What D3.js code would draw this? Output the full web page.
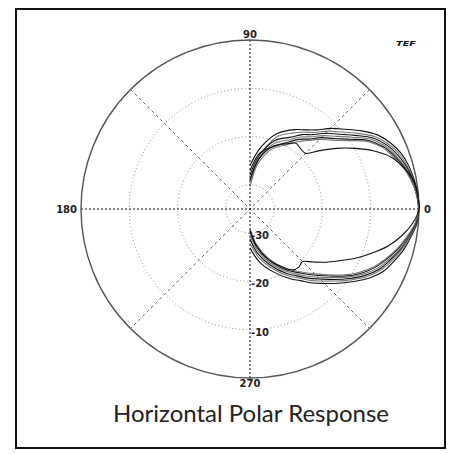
<!DOCTYPE html>
<html>
<head>
<meta charset="utf-8">
<script src="https://cdn.jsdelivr.net/npm/d3@7"></script>
<style>
  html, body { margin: 0; padding: 0; background: #fff; }
  svg { display: block; }
</style>
</head>
<body>
<svg id="chart" width="450" height="454"></svg>
<script>
// ---- data ----
const angles = [90,80,70,60,55,50,45,40,35,30,25,20,15,10,5,0,-5,-10,-15,-20,-25,-30,-35,-40,-45,-50,-55,-60,-70,-80,-90];

const curve1 = [-26.0,-22.0,-18.3,-16.0,-15.0,-13.6,-11.4,-9.3,-6.8,-4.4,-2.8,-1.6,-0.9,-0.45,-0.1,0,-0.3,-1.2,-2.1,-3.3,-4.5,-6.4,-8.8,-11.1,-13.2,-15.0,-16.9,-18.3,-21.2,-23.9,-26.9];
const curve2 = [-29.7,-24.6,-19.2,-16.8,-15.6,-14.3,-12.2,-10.2,-7.7,-5.1,-3.3,-2.0,-1.2,-0.6,-0.2,0,-0.4,-1.4,-2.4,-3.7,-5.1,-7.0,-9.4,-11.8,-13.9,-15.7,-17.6,-19.0,-22.0,-24.9,-27.9];
const curve3 = [-28.0,-23.6,-19.9,-17.8,-16.2,-14.9,-12.8,-10.9,-8.4,-5.6,-3.7,-2.4,-1.4,-0.7,-0.2,0,-0.5,-1.6,-2.7,-4.1,-5.5,-7.5,-9.9,-12.3,-14.5,-16.3,-18.1,-19.5,-22.6,-25.6,-28.8];
const curve4 = [-28.9,-24.3,-20.6,-18.4,-16.8,-15.5,-13.5,-11.6,-9.1,-6.1,-4.1,-2.8,-1.7,-0.9,-0.3,-0.1,-0.6,-1.7,-2.9,-4.4,-5.9,-8.0,-10.4,-12.9,-15.0,-16.9,-18.6,-20.1,-23.2,-26.4,-29.6];
const curve5 = [-27.1,-23.2,-21.3,-19.0,-17.4,-16.1,-14.1,-12.3,-9.8,-6.6,-4.5,-3.1,-1.9,-1.0,-0.4,-0.1,-0.6,-1.9,-3.2,-4.8,-6.4,-8.4,-10.8,-13.4,-15.6,-17.5,-19.1,-20.6,-23.8,-27.1,-30.4];
const curve6 = [-30.4,-25.5,-21.8,-19.6,-18.0,-16.5,-14.6,-12.8,-10.3,-7.0,-4.8,-3.4,-2.1,-1.1,-0.4,-0.1,-0.7,-2.0,-3.4,-5.0,-6.7,-8.8,-11.2,-13.8,-16.0,-17.9,-19.5,-21.0,-24.3,-27.7,-31.0];
const curve7 = [-29.0,-24.5,-21.2,-19.4,-18.4,-18.7,-18.7,-16.2,-13.1,-9.9,-6.6,-3.8,-2.0,-0.6,-0.2,0,-1.2,-3.1,-5.4,-8.2,-10.9,-13.6,-15.8,-17.9,-19.6,-19.3,-19.6,-21.0,-23.9,-27.2,-30.6];

const seriesList = [curve1, curve2, curve3, curve4, curve5, curve6, curve7];
const seriesColors = ["#111", "#777", "#111", "#777", "#111", "#777", "#111"];

const ringLevels = [-30, -20, -10];
const ringLabels = ["-30", "-20", "-10"];
const angleLabels = [
  {deg: 90, text: "90"},
  {deg: 180, text: "180"},
  {deg: 0, text: "0"},
  {deg: 270, text: "270"}
];
const titleText = "Horizontal Polar Response";
const logoText = "TEF";

// ---- drawing ----
const svg = d3.select("#chart");
const cx = 250, cy = 209, R = 169;

svg.append("rect")
  .attr("x", 16).attr("y", 9).attr("width", 429).attr("height", 439)
  .attr("fill", "#fff").attr("stroke", "#111").attr("stroke-width", 2);

const r = d3.scaleLinear().domain([-35, 0]).range([0, R]).clamp(true);
const toRad = d => d * Math.PI / 180;

const g = svg.append("g").attr("transform", `translate(${cx},${cy})`);

// rings
g.selectAll("circle.ring").data(ringLevels).join("circle")
  .attr("class", "ring")
  .attr("r", d => r(d))
  .attr("fill", "none")
  .attr("stroke", "#888")
  .attr("stroke-width", 1)
  .attr("stroke-dasharray", "1,2.5");

// diagonals
[45, 135].forEach(a => {
  g.append("line")
    .attr("x1", R * Math.cos(toRad(a))).attr("y1", -R * Math.sin(toRad(a)))
    .attr("x2", -R * Math.cos(toRad(a))).attr("y2", R * Math.sin(toRad(a)))
    .attr("stroke", "#444").attr("stroke-width", 0.8)
    .attr("stroke-dasharray", "3,3");
});
// main axes
[0, 90].forEach(a => {
  g.append("line")
    .attr("x1", R * Math.cos(toRad(a))).attr("y1", -R * Math.sin(toRad(a)))
    .attr("x2", -R * Math.cos(toRad(a))).attr("y2", R * Math.sin(toRad(a)))
    .attr("stroke", "#111").attr("stroke-width", 1)
    .attr("stroke-dasharray", "2,2");
});

// outer circle
g.append("circle").attr("r", r(0)).attr("fill", "none")
  .attr("stroke", "#555").attr("stroke-width", 1.4);

// curves
const line = d3.lineRadial()
  .angle((d, i) => toRad(90 - angles[i]))
  .radius(d => r(d))
  .curve(d3.curveCatmullRom.alpha(0.5));

g.selectAll("path.curve").data(seriesList).join("path")
  .attr("class", "curve")
  .attr("d", d => line(d))
  .attr("fill", "none")
  .attr("stroke", (d, i) => seriesColors[i])
  .attr("stroke-width", 1.1);

// ring labels
const labelFont = "DejaVu Sans";
g.selectAll("text.rl").data(ringLevels).join("text")
  .attr("class", "rl")
  .attr("x", 1)
  .attr("y", d => r(d) + 6)
  .attr("font-family", labelFont).attr("font-weight", "bold")
  .attr("font-size", 10).attr("fill", "#222")
  .text((d, i) => ringLabels[i]);

// angle labels
angleLabels.forEach(l => {
  const t = g.append("text")
    .attr("font-family", labelFont).attr("font-weight", "bold")
    .attr("font-size", 10).attr("fill", "#222")
    .text(l.text);
  if (l.deg === 90) t.attr("x", 0).attr("y", -R - 2).attr("text-anchor", "middle");
  if (l.deg === 270) t.attr("x", 0).attr("y", R + 9).attr("text-anchor", "middle");
  if (l.deg === 180) t.attr("x", -R - 4).attr("y", 3.5).attr("text-anchor", "end");
  if (l.deg === 0) t.attr("x", R + 5).attr("y", 3.5).attr("text-anchor", "start");
});

// logo
svg.append("text")
  .attr("transform", "translate(406,45.5) scale(1.5,1)")
  .attr("text-anchor", "middle")
  .attr("font-family", "DejaVu Sans").attr("font-weight", "bold")
  .attr("font-style", "italic").attr("font-size", 6.5).attr("fill", "#111")
  .text(logoText);

// title
svg.append("text")
  .attr("x", 251).attr("y", 422)
  .attr("text-anchor", "middle")
  .attr("font-family", "Lato").attr("font-size", 24).attr("fill", "#222")
  .text(titleText);
</script>
</body>
</html>
